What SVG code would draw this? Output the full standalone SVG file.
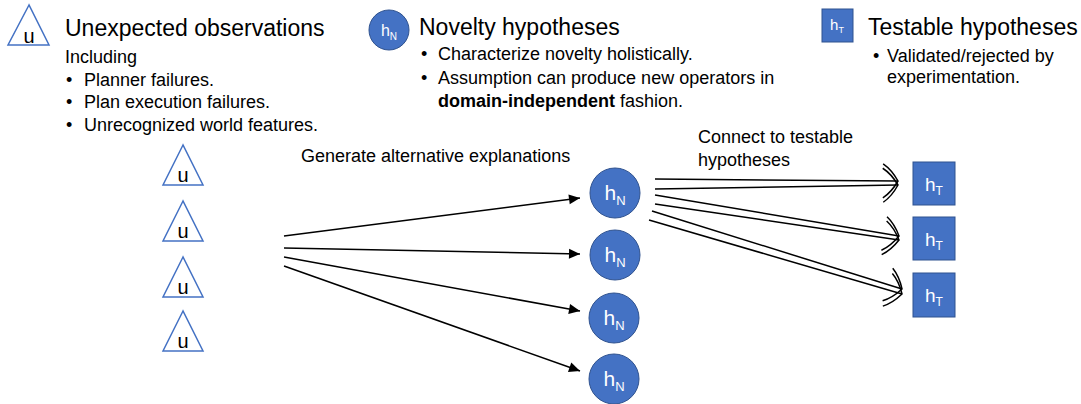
<svg xmlns="http://www.w3.org/2000/svg" width="1081" height="404" viewBox="0 0 1081 404">
<style>
text{font-family:"Liberation Sans",Arial,sans-serif;fill:#000}
.title{font-size:23px}
.body{font-size:18px}
.tri{fill:#fff;stroke:#4472C4;stroke-width:1.5}
.circ{fill:#4472C4;stroke:#2F528F;stroke-width:1}
.sq{fill:#4472C4;stroke:#2F528F;stroke-width:1}
.wt{fill:#fff}
.u{font-size:20px;text-anchor:middle}
.gen{stroke:#000;stroke-width:1.5;fill:none}
.con{stroke:#000;stroke-width:1.5;fill:none}
</style>
<defs>
<marker id="ah" markerUnits="userSpaceOnUse" viewBox="-12 -6 13 12" refX="0" refY="0" markerWidth="13" markerHeight="12" orient="auto">
<path d="M-11,-5 L0,0 L-11,5 Z" fill="#000"/>
</marker>
<marker id="oa" markerUnits="userSpaceOnUse" viewBox="-18 -20 20 40" refX="0" refY="0" markerWidth="20" markerHeight="40" orient="auto">
<path d="M-15,-17 C-9,-13 -4,-7 0,0 C-4,7 -9,13 -15,17" fill="none" stroke="#000" stroke-width="1.5"/>
</marker>
</defs>

<g id="legend-unexpected">
<polygon class="tri" points="29,5 8,45 49,45"/>
<text class="u" x="29" y="43">u</text>
<text class="title" x="65" y="36">Unexpected observations</text>
<text class="body" x="65" y="63">Including</text>
<text class="body" x="66" y="86">•</text><text class="body" x="84" y="86">Planner failures.</text>
<text class="body" x="66" y="108">•</text><text class="body" x="84" y="108">Plan execution failures.</text>
<text class="body" x="66" y="131">•</text><text class="body" x="84" y="131">Unrecognized world features.</text>
</g>

<g id="legend-novelty">
<circle class="circ" cx="389" cy="30" r="20"/>
<text class="wt" x="389" y="36" text-anchor="middle" font-size="16">h<tspan font-size="10" dy="4">N</tspan></text>
<text class="title" x="419" y="35">Novelty hypotheses</text>
<text class="body" x="421" y="60">•</text><text class="body" x="438" y="60">Characterize novelty holistically.</text>
<text class="body" x="421" y="84">•</text><text class="body" x="438" y="84">Assumption can produce new operators in</text>
<text class="body" x="438" y="107"><tspan font-weight="bold">domain-independent</tspan> fashion.</text>
</g>

<g id="legend-testable">
<rect class="sq" x="822" y="9" width="31" height="33"/>
<text class="wt" x="837" y="30" text-anchor="middle" font-size="15">h<tspan font-size="9" dy="3">T</tspan></text>
<text class="title" x="868" y="35">Testable hypotheses</text>
<text class="body" x="873" y="62">•</text><text class="body" x="887" y="62">Validated/rejected by</text>
<text class="body" x="887" y="83">experimentation.</text>
</g>

<g id="u1"><polygon class="tri" points="183,145 163,185 203,185"/><text class="u" x="183" y="182">u</text></g>
<g id="u2"><polygon class="tri" points="183,201 163,241 203,241"/><text class="u" x="183" y="238">u</text></g>
<g id="u3"><polygon class="tri" points="183,257 163,297 203,297"/><text class="u" x="183" y="294">u</text></g>
<g id="u4"><polygon class="tri" points="183,311 163,351 203,351"/><text class="u" x="183" y="348">u</text></g>

<g id="n1"><circle class="circ" cx="615" cy="193" r="25"/><text class="wt" x="615" y="200" text-anchor="middle" font-size="21">h<tspan font-size="13" dy="5">N</tspan></text></g>
<g id="n2"><circle class="circ" cx="615" cy="255" r="25"/><text class="wt" x="615" y="262" text-anchor="middle" font-size="21">h<tspan font-size="13" dy="5">N</tspan></text></g>
<g id="n3"><circle class="circ" cx="614" cy="318" r="25"/><text class="wt" x="614" y="325" text-anchor="middle" font-size="21">h<tspan font-size="13" dy="5">N</tspan></text></g>
<g id="n4"><circle class="circ" cx="614" cy="379" r="25"/><text class="wt" x="614" y="386" text-anchor="middle" font-size="21">h<tspan font-size="13" dy="5">N</tspan></text></g>

<g id="t1"><rect class="sq" x="913" y="162" width="42" height="43"/><text class="wt" x="934" y="191" text-anchor="middle" font-size="19">h<tspan font-size="12" dy="4">T</tspan></text></g>
<g id="t2"><rect class="sq" x="913" y="217" width="42" height="43"/><text class="wt" x="934" y="246" text-anchor="middle" font-size="19">h<tspan font-size="12" dy="4">T</tspan></text></g>
<g id="t3"><rect class="sq" x="913" y="273" width="42" height="44"/><text class="wt" x="934" y="302" text-anchor="middle" font-size="19">h<tspan font-size="12" dy="4">T</tspan></text></g>

<g id="labels">
<text class="body" x="301" y="162">Generate alternative explanations</text>
<text class="body" x="698" y="143">Connect to testable</text>
<text class="body" x="698" y="166">hypotheses</text>
</g>

<g id="connectors">
<line class="gen" x1="284" y1="236" x2="580" y2="198" marker-end="url(#ah)"/>
<line class="gen" x1="284" y1="248" x2="580" y2="254" marker-end="url(#ah)"/>
<line class="gen" x1="284" y1="257" x2="580" y2="311" marker-end="url(#ah)"/>
<line class="gen" x1="284" y1="266" x2="580" y2="371" marker-end="url(#ah)"/>
<line class="con" x1="655" y1="179" x2="898" y2="181" marker-end="url(#oa)"/>
<line class="con" x1="655" y1="189" x2="898" y2="185" marker-end="url(#oa)"/>
<line class="con" x1="655" y1="195" x2="899" y2="236" marker-end="url(#oa)"/>
<line class="con" x1="655" y1="204" x2="899" y2="240" marker-end="url(#oa)"/>
<line class="con" x1="652" y1="211" x2="902" y2="289" marker-end="url(#oa)"/>
<line class="con" x1="649" y1="220" x2="902" y2="294" marker-end="url(#oa)"/>
</g>
</svg>
